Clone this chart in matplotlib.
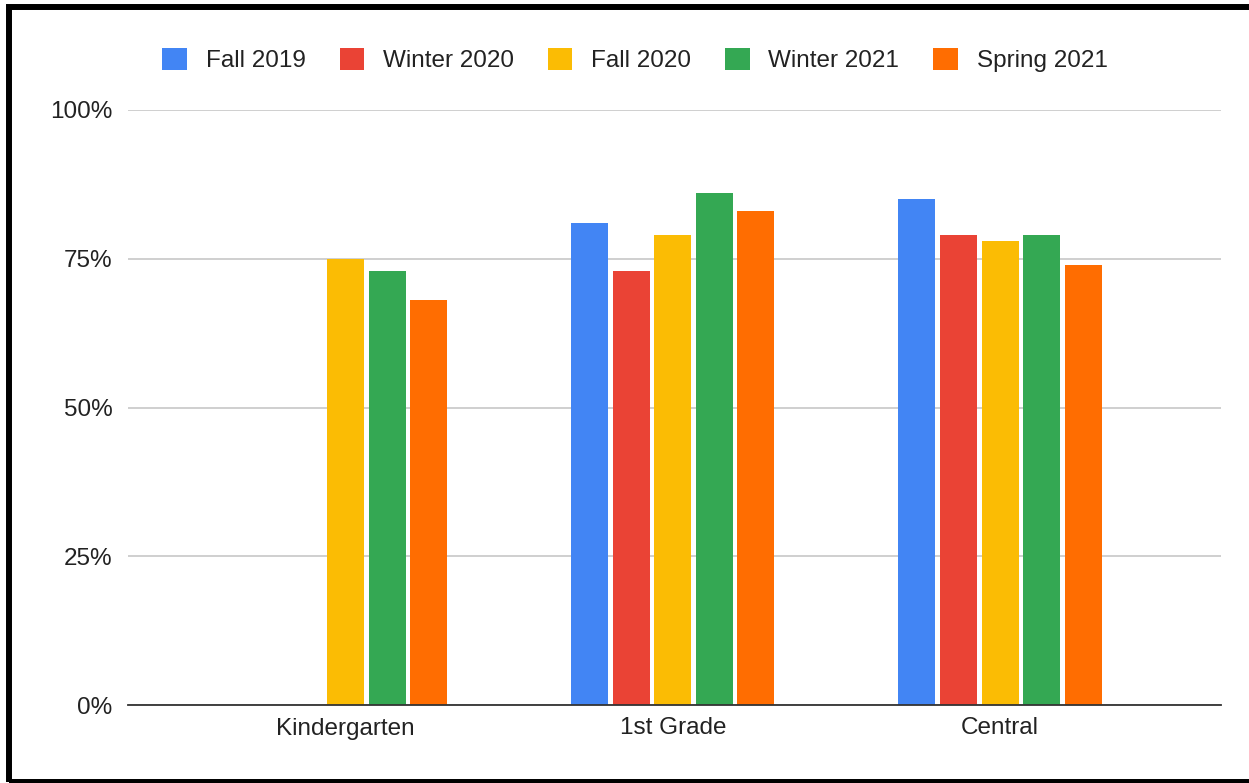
import matplotlib.pyplot as plt
import numpy as np
from matplotlib.patches import Rectangle
from matplotlib.ticker import FuncFormatter

plt.rcParams['font.family'] = ['Liberation Sans', 'DejaVu Sans']

# data
categories = ['Kindergarten', '1st Grade', 'Central']
series = ['Fall 2019', 'Winter 2020', 'Fall 2020', 'Winter 2021', 'Spring 2021']
values = {
    'Fall 2019':   [np.nan, 81, 85],
    'Winter 2020': [np.nan, 73, 79],
    'Fall 2020':   [75, 79, 78],
    'Winter 2021': [73, 86, 79],
    'Spring 2021': [68, 83, 74],
}
colors = ['#4285f4', '#ea4335', '#fbbc04', '#34a853', '#ff6d01']
yticks = [0, 25, 50, 75, 100]

W, H = 1249, 783
fig = plt.figure(figsize=(W / 100, H / 100), dpi=100)
ax = fig.add_axes([128 / W, 1 - 705 / H, (1221 - 128) / W, (705 - 110) / H])

x = np.arange(len(categories))
slot = 0.127
width = 0.113
for i, (name, col) in enumerate(zip(series, colors)):
    offs = (i - 2) * slot
    ax.bar(x + offs, values[name], width, color=col, label=name, zorder=3)

ax.set_xlim(-0.665, 2.675)
ax.set_ylim(0, 100)
ax.set_yticks(yticks)
ax.yaxis.set_major_formatter(FuncFormatter(lambda v, p: f'{v:.0f}%'))
ax.set_xticks(x)
ax.set_xticklabels(categories)
ax.tick_params(axis='both', length=0, labelsize=17.5, colors='#222222')
ax.tick_params(axis='y', pad=11)
ax.tick_params(axis='x', pad=9)
ax.grid(axis='y', color='#cccccc', linewidth=1.3, zorder=0)
for s in ['top', 'right', 'left']:
    ax.spines[s].set_visible(False)
ax.spines['bottom'].set_color('#333333')
ax.spines['bottom'].set_linewidth(1.3)
ax.spines['bottom'].set_zorder(4)

leg = fig.legend(loc='center', bbox_to_anchor=(635 / W, 1 - 60 / H), ncol=5,
                 frameon=False, fontsize=17.5, handlelength=1.0, handleheight=1.0,
                 handletextpad=0.78, columnspacing=1.4)
for t in leg.get_texts():
    t.set_color('#222222')

# black frame around the screenshot (right side cut off)
fig.add_artist(Rectangle((9 / W, 1 - 782 / H), 1.1, (782 - 7) / H,
                         transform=fig.transFigure, fill=False,
                         edgecolor='black', linewidth=4.3, clip_on=False))

fig.savefig('out.png', dpi=100)
